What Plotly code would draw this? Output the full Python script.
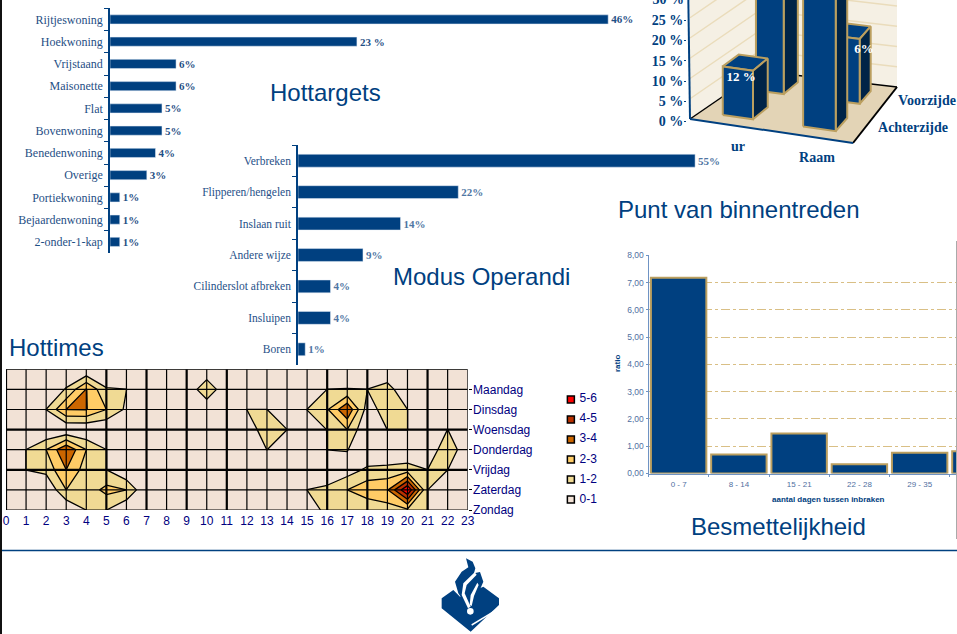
import plotly.graph_objects as go

W, H = 957, 634
BLUE = "#004080"
NAVY = "#000080"
SLAB = "Liberation Serif"
SANS = "Liberation Sans"

# ---- data
target_cats = ["Rijtjeswoning", "Hoekwoning", "Vrijstaand", "Maisonette", "Flat", "Bovenwoning",
               "Benedenwoning", "Overige", "Portiekwoning", "Bejaardenwoning", "2-onder-1-kap"]
target_vals = [46, 22.8, 6.1, 6.1, 4.8, 4.8, 4.2, 3.4, 0.9, 0.9, 0.9]
target_text = ["46%", "23 %", "6%", "6%", "5%", "5%", "4%", "3%", "1%", "1%", "1%"]

modus_cats = ["Verbreken", "Flipperen/hengelen", "Inslaan ruit", "Andere wijze",
              "Cilinderslot afbreken", "Insluipen", "Boren"]
modus_vals = [55, 22.2, 14.2, 9, 4.5, 4.5, 1]
modus_text = ["55%", "22%", "14%", "9%", "4%", "4%", "1%"]

besm_cats = ["0 - 7", "8 - 14", "15 - 21", "22 - 28", "29 - 35", "36 - 42"]
besm_vals = [7.18, 0.70, 1.47, 0.34, 0.76, 0.82]
besm_ticks = [0, 1, 2, 3, 4, 5, 6, 7, 8]
besm_ticktext = ["0,00", "1,00", "2,00", "3,00", "4,00", "5,00", "6,00", "7,00", "8,00"]

hours = list(range(24))
days = ["Zondag", "Zaterdag", "Vrijdag", "Donderdag", "Woensdag", "Dinsdag", "Maandag"]
#        0    1    2    3    4    5    6    7    8  9 10 11    12    13   14   15   16   17   18   19   20   21    22  23
z_zo = [0.0, 0.0, 1.01, 0.0, 1.01, 1.01, 0.0, 0.0, 0, 0, 0, 0,  0.0,  0.0, 0.0, 0.0, 1.5, 1.1, 1.1, 1.5, 1.8, 1.01, 0.0, 0]
z_za = [0.0, 0.0, 0.0, 2.0, 1.4, 2.3, 2.0, 0.0, 0, 0, 0, 0,  0.0,  0.0, 0.0, 1.01, 1.3, 2.0, 2.7, 2.9, 5.95, 1.01, 0.0, 0]
z_vr = [0.0, 1.01, 1.3, 3.0, 1.5, 1.01, 0.0, 0.0, 0, 0, 0, 0,  0.0,  0.0, 0.0, 0.0, 0.0, 0.5, 1.2, 1.3, 1.5, 1.01, 1.01, 0]
z_do = [0.0, 1.01, 2.0, 3.9, 2.0, 1.01, 0.0, 0.0, 0, 0, 0, 0,  0.0,  1.01, 0.0, 0.0, 1.01, 1.05, 0.0, 0.0, 0.0, 0.0, 1.95, 0]
z_wo = [0.0, 0.0, 0.0, 0.0, 0.0, 0.0, 0.0, 0.0, 0, 0, 0, 0,  0.0,  1.95, 1.01, 0.7, 1.01, 2.0, 0.0, 1.01, 1.01, 0.0, 1.01, 0]
z_di = [0.0, 0.0, 1.01, 3.0, 3.05, 2.0, 0.8, 0.0, 0, 0, 0, 0, 1.01, 1.01, 0.0, 1.01, 1.9, 3.9, 0.5, 1.5, 1.01, 0.0, 0.0, 0]
z_ma = [0.0, 0.0, 0.0, 1.1, 3.05, 1.1, 1.01, 0.0, 0, 0, 1.95, 0, 0.0, 0.0, 0.0, 0.0, 1.01, 1.05, 1.01, 1.5, 0.0, 0.0, 0.0, 0]
z_top = [0.0] * 24
contour_levels = ["5-6", "4-5", "3-4", "2-3", "1-2", "0-1"]
contour_colors = ["#ff0000", "#b93000", "#cc6600", "#ffcc66", "#f0da94", "#f2e2d6"]
thick_hours = [5, 7, 9, 11, 16, 18, 21]
thick_rows = [2, 4]   # row indices of the heavier horizontal rules

box_sides = ["Achterzijde", "Voorzijde"]
box_cats = ["Deur", "Raam"]
box_vals_achter = [12, 40]    # second bar is cut off by the slide edge
box_vals_voor = [42, 16]      # first bar is cut off by the slide edge
box_ticks = [0, 5, 10, 15, 20, 25, 30]
box_ticktext = ["0 %", "5 %", "10 %", "15 %", "20 %", "25 %", "30 %"]


# ---- pixel helpers (layout only)
def dx(a, b):
    return [a / W, min(b / W, 1)]


def dy(top, bottom):
    return [1 - bottom / H, 1 - top / H]


fig = go.Figure()
TAN = "#bb9f5f"
WALL = "#f5f0e4"
WALLINE = "#eadcbb"
FLOOR = "#e3d4b6"
SIDE = "#002447"

# ---- 3D bars: oblique projection from data to axis units
PX_PER_PCT = 4.05
Y0 = 121.5
FL, FR, BR, BL = (690, 119), (853, 143), (897, 87), (760, 71)


def proj(u, v, h=0.0):
    px = FL[0] + u * (FR[0] - FL[0]) + v * (BL[0] - FL[0]) + u * v * (BR[0] - BL[0] - FR[0] + FL[0])
    py = FL[1] + u * (FR[1] - FL[1]) + v * (BL[1] - FL[1]) + u * v * (BR[1] - BL[1] - FR[1] + FL[1])
    return px, (Y0 - py) / PX_PER_PCT + h


def poly(points, fill, line=None, lw=0, xa="x3", ya="y3"):
    xs = [p[0] for p in points] + [points[0][0]]
    ys = [p[1] for p in points] + [points[0][1]]
    fig.add_trace(go.Scatter(x=xs, y=ys, mode="lines", fill="toself", fillcolor=fill,
                             line=dict(color=line or fill, width=lw if line else 0),
                             xaxis=xa, yaxis=ya, showlegend=False, hoverinfo="skip"))


def seg(points, color, lw, xa="x3", ya="y3"):
    fig.add_trace(go.Scatter(x=[p[0] for p in points], y=[p[1] for p in points], mode="lines",
                             line=dict(color=color, width=lw), xaxis=xa, yaxis=ya,
                             showlegend=False, hoverinfo="skip"))


TOPH = 45
poly([proj(0, 0), proj(0, 1), proj(0, 1, TOPH), proj(0, 0, TOPH)], WALL)
poly([proj(0, 1), proj(1, 1), proj(1, 1, TOPH), proj(0, 1, TOPH)], WALL)
for t in box_ticks[1:]:
    seg([proj(0, 0, t), proj(0, 1, t), proj(1, 1, t)], WALLINE, 1.5)
poly([proj(0, 0), proj(1, 0), proj(1, 1), proj(0, 1)], FLOOR)
seg([proj(0, 0), proj(0, 1)], "#000000", 1.5)
seg([proj(0, 1), proj(1, 1)], "#000000", 1.5)
seg([proj(1, 0), proj(1, 1)], "#000000", 2)
seg([proj(0, 0), proj(1, 0)], BLUE, 2)
seg([proj(0, 0), (687.5, TOPH)], BLUE, 2)


def bar3d(u0, u1, v0, v1, h):
    poly([proj(u0, v0, h), proj(u1, v0, h), proj(u1, v1, h), proj(u0, v1, h)], BLUE, TAN, 2)
    poly([proj(u1, v0), proj(u1, v1), proj(u1, v1, h), proj(u1, v0, h)], SIDE, TAN, 2)
    poly([proj(u0, v0), proj(u1, v0), proj(u1, v0, h), proj(u0, v0, h)], BLUE, TAN, 2)


U = [(0.14, 0.33), (0.645, 0.85)]
V = {"Achterzijde": (0.15, 0.39), "Voorzijde": (0.65, 0.88)}
bar3d(*U[0], *V["Voorzijde"], box_vals_voor[0])
bar3d(*U[1], *V["Voorzijde"], box_vals_voor[1])
bar3d(*U[0], *V["Achterzijde"], box_vals_achter[0])
bar3d(*U[1], *V["Achterzijde"], box_vals_achter[1])

fig.add_trace(go.Scatter(
    x=[741, 864], y=[(Y0 - 78) / PX_PER_PCT, (Y0 - 50) / PX_PER_PCT],
    text=[f"{box_vals_achter[0]} %", f"{box_vals_voor[1] % 10}%"], mode="text",
    textfont=dict(family=SLAB, size=13, color="#ffffff", weight="bold"),
    xaxis="x3", yaxis="y3", showlegend=False, hoverinfo="skip"))
fig.add_trace(go.Scatter(
    x=[738, 817, 927, 913],
    y=[(Y0 - 147) / PX_PER_PCT, (Y0 - 158) / PX_PER_PCT, (Y0 - 101) / PX_PER_PCT, (Y0 - 128) / PX_PER_PCT],
    text=[box_cats[0][-2:], box_cats[1], box_sides[1], box_sides[0]], mode="text",
    textfont=dict(family=SLAB, size=14, color=BLUE, weight="bold"),
    xaxis="x3", yaxis="y3", showlegend=False, hoverinfo="skip", cliponaxis=False))
# topmost axis label sits half over the slide edge
fig.add_trace(go.Scatter(
    x=[684], y=[box_ticks[-1]], text=[box_ticktext[-1]], mode="text", textposition="middle left",
    textfont=dict(family=SLAB, size=14, color=BLUE, weight="bold"),
    xaxis="x7", yaxis="y3", showlegend=False, hoverinfo="skip", cliponaxis=False))

# ---- Hottargets
fig.add_trace(go.Bar(x=target_vals, y=target_cats, orientation="h", marker_color=BLUE, width=0.41,
                     text=target_text, textposition="outside", cliponaxis=False, constraintext="none",
                     textfont=dict(family=SLAB, size=11, color="#1f4f85", weight="bold"),
                     xaxis="x", yaxis="y", showlegend=False))
# ---- Modus Operandi
fig.add_trace(go.Bar(x=modus_vals, y=modus_cats, orientation="h", marker_color=BLUE, width=0.41,
                     text=modus_text, textposition="outside", cliponaxis=False, constraintext="none",
                     textfont=dict(family=SLAB, size=11, color="#4f76a3", weight="bold"),
                     xaxis="x2", yaxis="y2", showlegend=False))

# ---- Hottimes contour
z = [z_zo, z_za, z_vr, z_do, z_wo, z_di, z_ma, z_top]
n = len(contour_colors) - 1
fig.add_trace(go.Contour(x=hours, y=list(range(8)), z=z,
                         contours=dict(start=1, end=5, size=1, coloring="fill"),
                         colorscale=[[i / n, c] for i, c in enumerate(reversed(contour_colors))],
                         line=dict(color="#000000", width=1.3, smoothing=0), showscale=False, autocontour=False,
                         xaxis="x4", yaxis="y4", hoverinfo="skip"))
shapes = []
for h in hours:
    shapes.append(dict(type="line", xref="x4", yref="y4", x0=h, x1=h, y0=0, y1=7, layer="above",
                       line=dict(color="#000000", width=2.2 if h in thick_hours or h == 0 else 1.2)))
for r in range(8):
    shapes.append(dict(type="line", xref="x4", yref="y4", x0=0, x1=23, y0=r, y1=r, layer="above",
                       line=dict(color="#000000", width=2.2 if r in thick_rows else 1.2)))

# legend of the contour
fig.add_trace(go.Scatter(x=[0] * 6, y=contour_levels, mode="markers+text",
                         marker=dict(symbol="square", size=7, color=contour_colors,
                                     line=dict(color="#000000", width=1.5)),
                         text=["\u00a0" + s for s in contour_levels], textposition="middle right",
                         textfont=dict(family=SANS, size=12, color=NAVY), cliponaxis=False,
                         xaxis="x6", yaxis="y6", showlegend=False, hoverinfo="skip"))

# ---- Besmettelijkheid
fig.add_trace(go.Bar(x=besm_cats, y=besm_vals, marker=dict(color=BLUE, line=dict(color=TAN, width=2)),
                     width=0.92, xaxis="x5", yaxis="y5", showlegend=False))

grey = "#4f6f9f"
fig.update_layout(
    width=W, height=H, margin=dict(l=0, r=0, t=0, b=0, pad=0), autosize=False,
    paper_bgcolor="#ffffff", plot_bgcolor="rgba(0,0,0,0)", showlegend=False, barmode="overlay",
    font=dict(family=SANS, color=BLUE),
    xaxis=dict(domain=dx(110, 620), range=[0, 510 / 10.83], visible=False),
    yaxis=dict(domain=dy(8.3, 253), autorange="reversed", type="category", anchor="x", showline=True,
               linecolor=BLUE, linewidth=1.5, ticks="outside", ticklen=4, tickcolor=BLUE,
               tickson="boundaries", showgrid=False, ticklabelstandoff=3,
               tickfont=dict(family=SLAB, size=12, color="#1f4f85")),
    xaxis2=dict(domain=dx(298, 720), range=[0, 422 / 7.22], visible=False),
    yaxis2=dict(domain=dy(145, 365), autorange="reversed", type="category", anchor="x2", showline=True,
                linecolor=BLUE, linewidth=1.5, ticks="outside", ticklen=4, tickcolor=BLUE,
                tickson="boundaries", showgrid=False, ticklabelstandoff=3,
                tickfont=dict(family=SLAB, size=11.5, color="#1f5088")),
    xaxis3=dict(domain=dx(687, W), range=[687, W], visible=False, fixedrange=True),
    yaxis3=dict(domain=dy(0, 170), range=[(Y0 - 170) / PX_PER_PCT, Y0 / PX_PER_PCT + 0.001], anchor="x3",
                tickvals=box_ticks[:-1], ticktext=box_ticktext[:-1], ticks="outside", ticklen=2, tickcolor=BLUE,
                showgrid=False, zeroline=False, showline=False, ticklabelstandoff=-2,
                tickfont=dict(family=SLAB, size=14, color=BLUE, weight="bold")),
    xaxis7=dict(domain=dx(640, 687), range=[640, 687], visible=False, fixedrange=True, anchor="y3"),
    xaxis4=dict(domain=dx(6, 467.7), range=[0, 23], tickvals=hours, anchor="y4", showgrid=False, zeroline=False,
                ticks="", ticklabelstandoff=2, tickfont=dict(family=SANS, size=12, color=NAVY)),
    yaxis4=dict(domain=dy(369.3, 510), range=[0, 7], side="right", anchor="x4", tickvals=list(range(7)),
                ticktext=days, ticks="outside", ticklen=3, tickcolor="#000000", showgrid=False, zeroline=False,
                ticklabelstandoff=-1, tickfont=dict(family=SANS, size=12, color=NAVY)),
    xaxis5=dict(domain=dx(648.5, W), range=[-0.5, 4.62], anchor="y5", type="category", showline=True,
                linecolor="#6f93c4", linewidth=1, ticks="outside", ticklen=2, tickcolor="#6f93c4",
                tickson="boundaries", showgrid=False, ticklabelstandoff=3,
                tickfont=dict(family=SANS, size=8, color=grey)),
    yaxis5=dict(domain=dy(255.3, 473.5), range=[0, 8], anchor="x5", tickvals=besm_ticks, ticktext=besm_ticktext,
                showline=True, linecolor="#6f93c4", linewidth=1, ticks="outside", ticklen=2, tickcolor="#6f93c4",
                gridcolor="#d9bf85", griddash="dashdot", gridwidth=1, zeroline=False,
                tickfont=dict(family=SANS, size=8.5, color=grey)),
    xaxis6=dict(domain=dx(565, 610), range=[-0.15, 1], visible=False, fixedrange=True),
    yaxis6=dict(domain=dy(389, 510), autorange="reversed", type="category", anchor="x6", visible=False, fixedrange=True),
)
fig.update_xaxes(automargin=False)
fig.update_yaxes(automargin=False)


def title(text, x, y, size=24, anchor="left", angle=0):
    fig.add_annotation(text=text, xref="paper", yref="paper", x=x / W, y=1 - y / H, showarrow=False,
                       xanchor=anchor, yanchor="middle", xshift=-1, textangle=angle,
                       font=dict(family=SANS, size=size, color=BLUE))


title("Hottargets", 269, 93)
title("Modus Operandi", 392, 276)
title("Hottimes", 8, 347)
title("Punt van binnentreden", 617, 210)
title("Besmettelijkheid", 690, 526)
title("<b>aantal dagen tussen inbraken</b>", 829.5, 499, size=8, anchor="center")
title("<b>ratio</b>", 618, 364, size=8, anchor="center", angle=-90)


# ---- frame, footer rule and logo (decoration, in page pixels)
def px_path(points):
    return "M" + " L".join(f"{x / W:.5f},{1 - y / H:.5f}" for x, y in points) + " Z"


def lg(points):  # coordinates taken from logo crop
    return px_path([(400 + x / 3, 540 + y / 3) for x, y in points])


shapes += [
    dict(type="rect", xref="paper", yref="paper", x0=0, x1=2 / W, y0=0, y1=1, fillcolor="#111111", line_width=0),
    dict(type="rect", xref="paper", yref="paper", x0=956 / W, x1=1, y0=0.15, y1=0.62, fillcolor="#aaaaaa", line_width=0),
    dict(type="line", xref="paper", yref="paper", x0=2 / W, x1=1, y0=1 - 550.5 / H, y1=1 - 550.5 / H,
         line=dict(color=BLUE, width=1.3)),
    dict(type="path", xref="paper", yref="paper", fillcolor=BLUE, line_width=0,
         path=lg([(125, 175), (160, 150), (180, 170), (250, 140), (297, 175), (297, 195), (212, 275), (125, 205)])),
    dict(type="path", xref="paper", yref="paper", fillcolor=BLUE, line_width=0,
         path=lg([(198, 55), (218, 65), (226, 85), (222, 100), (240, 96), (250, 125), (235, 160), (225, 190),
                  (195, 190), (175, 160), (165, 125), (185, 95), (205, 82)])),
    dict(type="path", xref="paper", yref="paper", fillcolor="#ffffff", line_width=0,
         path=lg([(224, 97), (230, 104), (200, 135), (194, 160), (212, 200), (204, 205), (185, 165), (190, 130)])),
    dict(type="path", xref="paper", yref="paper", fillcolor="#ffffff", line_width=0,
         path=lg([(232, 128), (236, 135), (222, 168), (215, 198), (209, 195), (212, 165)])),
    dict(type="circle", xref="paper", yref="paper", fillcolor="#ffffff", line_width=0,
         x0=(400 + 201 / 3) / W, x1=(400 + 221 / 3) / W, y0=1 - (540 + 224 / 3) / H, y1=1 - (540 + 204 / 3) / H),
    dict(type="path", xref="paper", yref="paper", fillcolor="#ffffff", line_width=0,
         path=lg([(214, 253), (290, 207), (292, 211), (216, 257)])),
]
fig.update_layout(shapes=shapes)
fig.write_html("out.html", config=dict(displayModeBar=False), post_script="document.body.style.margin='0';")
